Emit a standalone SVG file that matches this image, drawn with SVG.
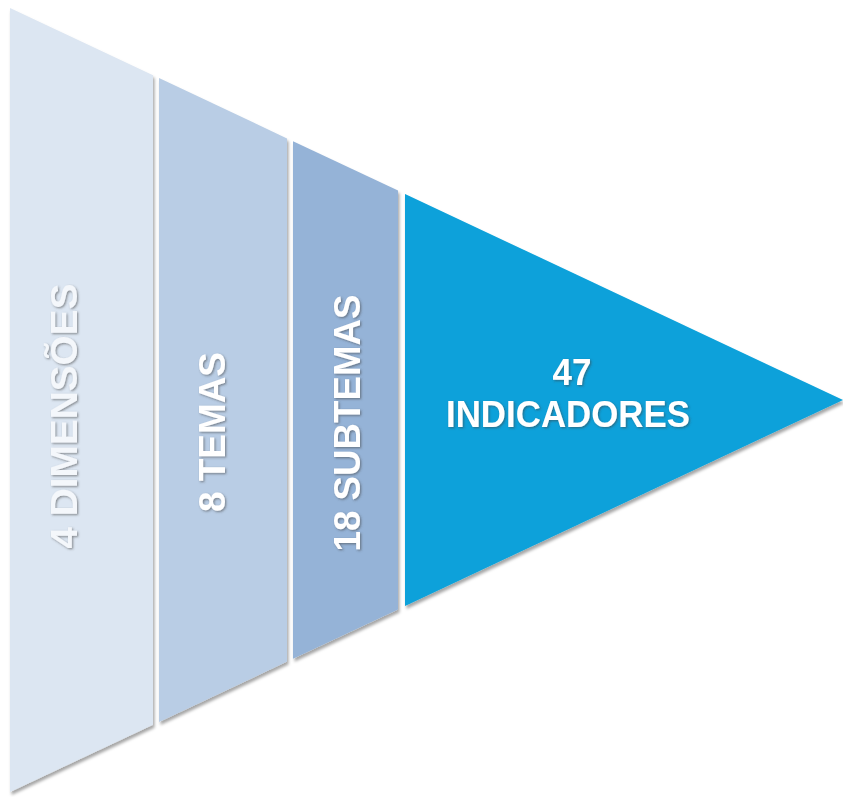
<svg xmlns="http://www.w3.org/2000/svg" width="843" height="797" viewBox="0 0 843 797">
  <defs>
    <filter id="shadow" x="-10%" y="-10%" width="130%" height="130%">
      <feDropShadow dx="1.5" dy="3" stdDeviation="1.8" flood-color="#000" flood-opacity="0.35"/>
    </filter>
    <filter id="tshadow" x="-20%" y="-20%" width="140%" height="140%">
      <feDropShadow dx="1.2" dy="1.2" stdDeviation="1" flood-color="#404040" flood-opacity="0.55"/>
    </filter>
  </defs>
  <style>
    .seg { filter: url(#shadow); }
    .lbl { font-family: "Liberation Sans", "Open Sans", sans-serif; font-weight: bold; font-size: 37px; fill: #ffffff; text-anchor: middle; }
    .light { fill: #f4f7fb; }
  </style>
  <rect width="843" height="797" fill="#ffffff"/>
  <g id="connectors"></g>
  <g id="dimensoes">
    <polygon class="seg" points="10,8 153,75.3 153,724.7 10,792" fill="#dce6f2"/>
    <g filter="url(#tshadow)">
      <text class="lbl light" transform="translate(77,416) rotate(-90)" textLength="265" lengthAdjust="spacingAndGlyphs">4 DIMENSÕES</text>
    </g>
  </g>
  <g id="temas">
    <polygon class="seg" points="159,78.1 287,138.4 287,661.6 159,721.9" fill="#b9cde5"/>
    <g filter="url(#tshadow)">
      <text class="lbl" transform="translate(225,432) rotate(-90)" textLength="160" lengthAdjust="spacingAndGlyphs">8 TEMAS</text>
    </g>
  </g>
  <g id="subtemas">
    <polygon class="seg" points="293,141.2 398,190.6 398,609.4 293,658.8" fill="#95b3d7"/>
    <g filter="url(#tshadow)">
      <text class="lbl" transform="translate(360,423) rotate(-90)" textLength="257" lengthAdjust="spacingAndGlyphs">18 SUBTEMAS</text>
    </g>
  </g>
  <g id="indicadores">
    <polygon class="seg" points="405,193.9 843,400 405,606.1" fill="#08a1da"/>
    <g filter="url(#tshadow)">
      <text class="lbl" x="572" y="385" textLength="39" lengthAdjust="spacingAndGlyphs">47</text>
      <text class="lbl" x="568" y="427" textLength="244" lengthAdjust="spacingAndGlyphs">INDICADORES</text>
    </g>
  </g>
</svg>
